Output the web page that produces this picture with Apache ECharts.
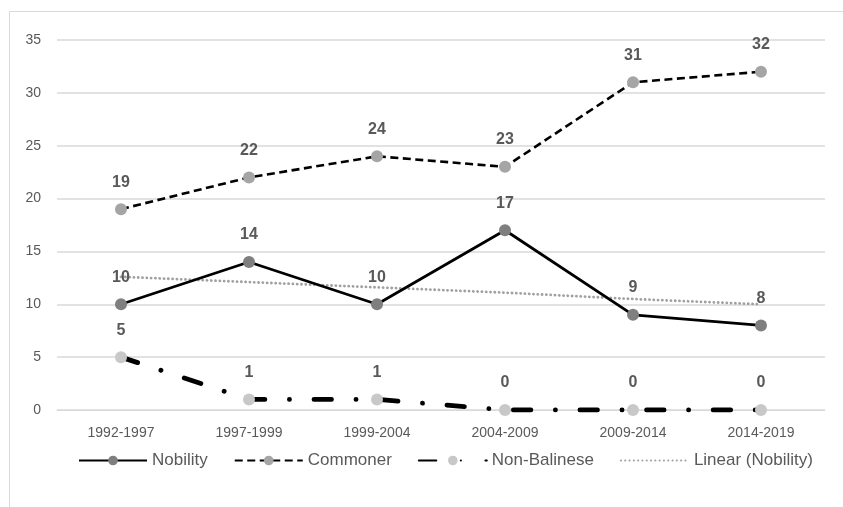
<!DOCTYPE html>
<html>
<head>
<meta charset="utf-8">
<script src="https://cdn.jsdelivr.net/npm/echarts@6/dist/echarts.min.js"></script>
<style>
html,body{margin:0;padding:0;background:#fff;}
#chart{width:843px;height:507px;}
</style>
</head>
<body>
<div id="chart"></div>
<script>
var categories = ['1992-1997','1997-1999','1999-2004','2004-2009','2009-2014','2014-2019'];
var nobility = [10,14,10,17,9,8];
var commoner = [19,22,24,23,31,32];
var nonBalinese = [5,1,1,0,0,0];
var linearNobility = [12.6,12.1,11.6,11.1,10.5,10.0];
var yTicks = {min:0, max:35, interval:5};

var FONT = '"Liberation Sans", sans-serif';
var labelStyle = {show:true, position:'top', distance:13, color:'#595959', fontWeight:'bold', fontSize:16, fontFamily:FONT};

var chart = echarts.init(document.getElementById('chart'), null, {renderer:'canvas'});
chart.setOption({
  animation:false,
  backgroundColor:'#fff',
  graphic:[{type:'rect', shape:{x:9.5,y:11.5,width:900,height:600}, style:{fill:'none', stroke:'#d9d9d9', lineWidth:1}, silent:true, z:-10}],
  grid:{left:57, right:18, top:40, bottom:97},
  legend:{
    bottom:33, left:73, itemWidth:68, itemHeight:12, itemGap:26,
    textStyle:{color:'#595959', fontSize:17, fontFamily:FONT},
    data:['Nobility','Commoner','Non-Balinese',{name:'Linear (Nobility)', itemStyle:{opacity:0}}]
  },
  xAxis:{
    type:'category', data:categories, boundaryGap:true,
    axisLine:{lineStyle:{color:'#d9d9d9', width:1}},
    axisTick:{show:false},
    axisLabel:{color:'#595959', fontSize:14, fontFamily:FONT, margin:16}
  },
  yAxis:{
    type:'value', min:yTicks.min, max:yTicks.max, interval:yTicks.interval,
    axisLine:{show:false}, axisTick:{show:false},
    splitLine:{lineStyle:{color:'#d9d9d9', width:1.5}},
    axisLabel:{color:'#595959', fontSize:14, fontFamily:FONT, margin:16}
  },
  series:[
    {name:'Linear (Nobility)', type:'line', data:linearNobility, symbol:'none', z:1,
     lineStyle:{color:'#a0a0a0', width:2.8, type:[0.1,4.2], cap:'round'}, itemStyle:{color:'#a0a0a0'}},
    {name:'Nobility', type:'line', data:nobility, symbol:'circle', symbolSize:12, z:3,
     lineStyle:{color:'#000', width:2.8}, itemStyle:{color:'#7f7f7f'}, label:labelStyle},
    {name:'Commoner', type:'line', data:commoner, symbol:'circle', symbolSize:12, z:3,
     lineStyle:{color:'#000', width:2.6, type:[8,4.5]}, itemStyle:{color:'#a5a5a5'}, label:labelStyle},
    {name:'Non-Balinese', type:'line', data:nonBalinese, symbol:'circle', symbolSize:12, z:3,
     lineStyle:{color:'#000', width:4.8, type:[17.5,24.5,0.1,24.5], cap:'round'}, itemStyle:{color:'#c8c8c8'}, label:labelStyle}
  ]
});
</script>
</body>
</html>
